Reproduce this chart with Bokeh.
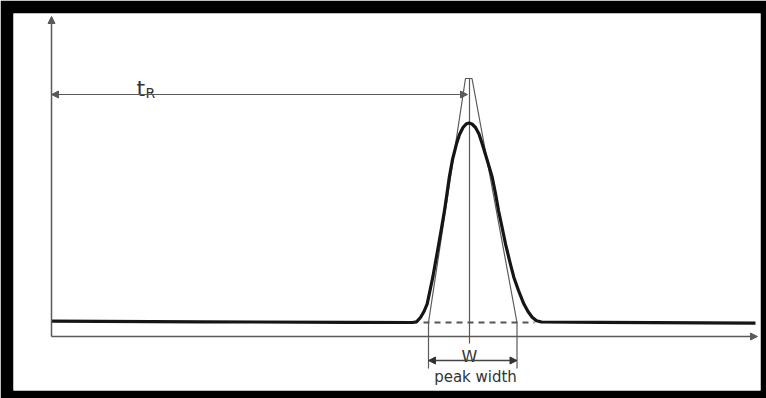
from bokeh.plotting import figure
from bokeh.models import Range1d, Arrow, NormalHead
from bokeh.core.properties import value
from bokeh.embed import file_html
from bokeh.resources import INLINE

# Chromatogram trace (time units, signal units)
curve_t = [0, 149, 299, 361, 365, 369, 372.5, 375.7, 378.5, 381.3, 384.3, 387.3,
           390.2, 393, 395.5, 397.8, 401, 405, 408, 411.5, 415, 417.5, 420.5, 424,
           427.5, 430.7, 435.5, 440.7, 444, 447, 450.5, 454, 458, 462.3, 467,
           472.3, 476.5, 480.7, 485, 490, 549, 704]
curve_s = [15.3, 14.7, 14.2, 14, 14.7, 19, 25, 32.7, 46, 59.3, 76, 92.7,
           109.5, 126, 143, 159.3, 177, 192.7, 202, 209, 212.8, 213.5, 212.5, 209,
           202.5, 192.7, 177, 159.3, 143, 126, 109.5, 92.7, 76, 59.3, 46,
           32.7, 25, 19.3, 15.8, 14.5, 14.2, 13.3]

# Construction lines (tangents at inflection points, extended to width markers)
tangent_t = [377, 377, 414, 420.5, 465.5, 465.5]
tangent_s = [-32, 14, 258, 258, 14, -32]

# Annotated quantities
t_R = 416            # retention time
peak_apex_t = 418
apex_line_top = 258
apex_line_bottom = -7
base_level = 14
base_dash_from, base_dash_to = 372, 483
w_left, w_right = 377, 465.5
w_arrow_level = -24
tR_arrow_level = 242
x_axis_end = 706
y_axis_end = 320

p = figure(width=766, height=398, output_backend="svg", toolbar_location=None,
           x_range=Range1d(-38, 709), y_range=Range1d(-54, 323),
           x_axis_type=None, y_axis_type=None,
           min_border_left=13, min_border_top=13, min_border_right=6, min_border_bottom=8)
p.grid.visible = False
p.outline_line_color = None
p.border_fill_color = "black"
p.background_fill_color = "white"

thin = "#5a5a5a"

# axes with arrow heads
p.add_layout(Arrow(end=NormalHead(size=7, fill_color=thin, line_color=thin),
                   x_start=0, y_start=0, x_end=x_axis_end, y_end=0,
                   line_color=thin, line_width=1.5))
p.add_layout(Arrow(end=NormalHead(size=7, fill_color=thin, line_color=thin),
                   x_start=0, y_start=0, x_end=0, y_end=y_axis_end,
                   line_color=thin, line_width=1.5))

# tangent construction and apex line
p.line(tangent_t, tangent_s, line_color=thin, line_width=1.2)
p.line([peak_apex_t, peak_apex_t], [apex_line_bottom, apex_line_top], line_color=thin, line_width=1.2)

# dashed baseline under the peak
p.line([base_dash_from, base_dash_to], [base_level, base_level], line_color="#555555",
       line_width=2, line_dash="6 5")

# chromatogram trace
p.line(curve_t, curve_s, line_color="#151515", line_width=3.2, line_join="round")

# retention time arrow
p.add_layout(Arrow(start=NormalHead(size=7, fill_color=thin, line_color=thin),
                   end=NormalHead(size=7, fill_color=thin, line_color=thin),
                   x_start=0, y_start=tR_arrow_level, x_end=t_R, y_end=tR_arrow_level,
                   line_color=thin, line_width=1.2))

# peak width arrow
p.add_layout(Arrow(start=NormalHead(size=7, fill_color="#333333", line_color="#333333"),
                   end=NormalHead(size=7, fill_color="#333333", line_color="#333333"),
                   x_start=w_left, y_start=w_arrow_level, x_end=w_right, y_end=w_arrow_level,
                   line_color="#444444", line_width=1.4))

font = value("DejaVu Sans")
p.text(x=[85], y=[248], text=["t"], text_font=font, text_font_size="22px",
       text_color="#333333", text_align="left", text_baseline="alphabetic")
p.text(x=[94], y=[244], text=["R"], text_font=font, text_font_size="14px",
       text_color="#333333", text_align="left", text_baseline="alphabetic")
p.text(x=[418], y=[-20], text=["W"], text_font=font, text_font_size="16px",
       text_color="#333333", text_align="center", text_baseline="alphabetic")
p.text(x=[424], y=[-40], text=["peak width"], text_font=font, text_font_size="15px",
       text_color="#333333", text_align="center", text_baseline="alphabetic")

open("out.html", "w").write(file_html(p, INLINE))
